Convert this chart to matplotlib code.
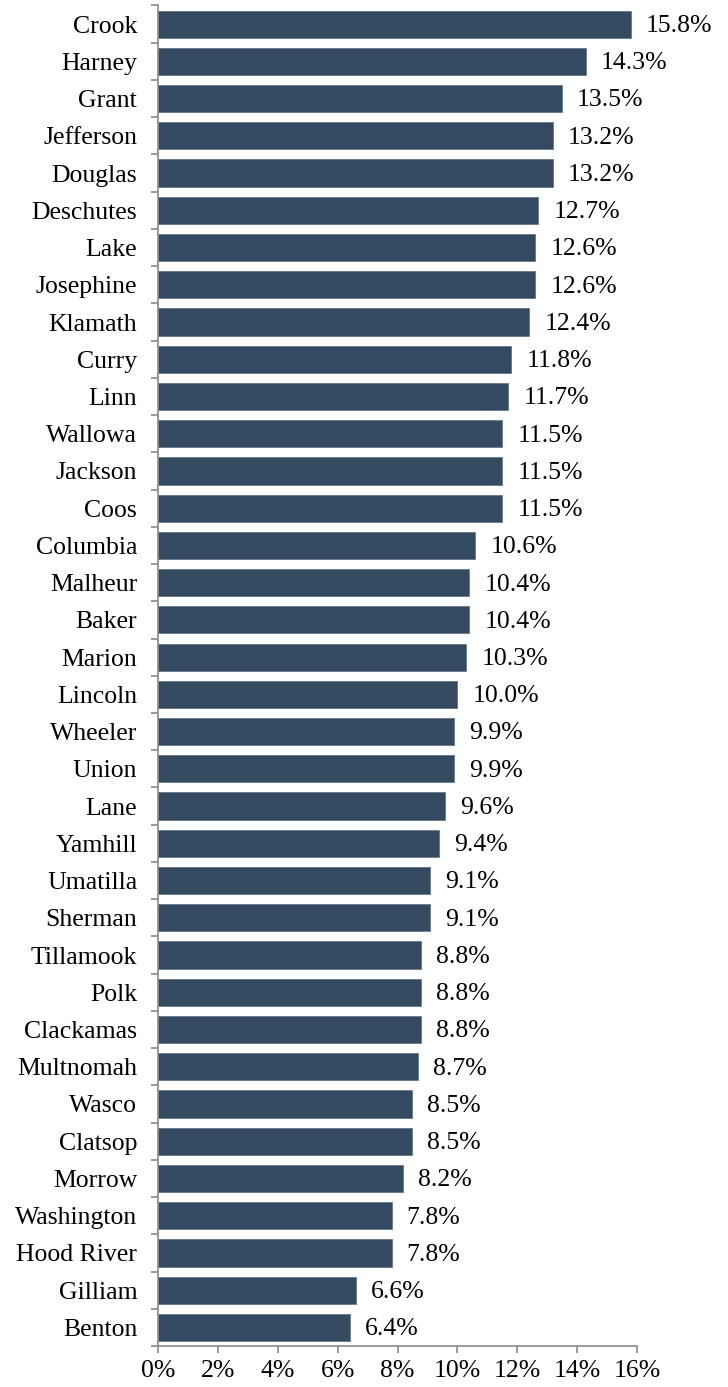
import matplotlib
matplotlib.use("Agg")
import matplotlib.pyplot as plt
import numpy as np
from matplotlib.ticker import FixedLocator

counties = ["Crook", "Harney", "Grant", "Jefferson", "Douglas", "Deschutes", "Lake",
            "Josephine", "Klamath", "Curry", "Linn", "Wallowa", "Jackson", "Coos",
            "Columbia", "Malheur", "Baker", "Marion", "Lincoln", "Wheeler", "Union",
            "Lane", "Yamhill", "Umatilla", "Sherman", "Tillamook", "Polk", "Clackamas",
            "Multnomah", "Wasco", "Clatsop", "Morrow", "Washington", "Hood River",
            "Gilliam", "Benton"]
values = [15.8, 14.3, 13.5, 13.2, 13.2, 12.7, 12.6, 12.6, 12.4, 11.8, 11.7, 11.5,
          11.5, 11.5, 10.6, 10.4, 10.4, 10.3, 10.0, 9.9, 9.9, 9.6, 9.4, 9.1, 9.1,
          8.8, 8.8, 8.8, 8.7, 8.5, 8.5, 8.2, 7.8, 7.8, 6.6, 6.4]
xticks = [0, 2, 4, 6, 8, 10, 12, 14, 16]
xtick_labels = [f"{t}%" for t in xticks]

plt.rcParams['font.family'] = ['Liberation Serif', 'DejaVu Serif']
FS = 18.5

fig = plt.figure(figsize=(7.28, 13.87), dpi=100)
ax = fig.add_axes([158/728, 1 - 1346/1387, (637 - 158)/728, (1346 - 5.5)/1387])

n = len(counties)
y = np.arange(n)
bar_color = "#344A60"
ax.barh(y, values, height=0.73, color=bar_color, edgecolor="#5a6e82", linewidth=0.5)

ax.set_ylim(n - 0.5, -0.5)
ax.set_xlim(0, 16)

ax.set_yticks(y)
ax.set_yticklabels(counties, fontsize=FS)
ax.yaxis.set_minor_locator(FixedLocator(np.arange(-0.5, n, 1)))
ax.tick_params(axis='y', which='major', length=0, pad=15)
ax.tick_params(axis='y', which='minor', length=5, color="#898989", width=1.2)

ax.set_xticks(xticks)
ax.set_xticklabels(xtick_labels, fontsize=FS)
ax.tick_params(axis='x', length=5, color="#898989", width=1.2, pad=5)

for s in ['top', 'right']:
    ax.spines[s].set_visible(False)
for s in ['left', 'bottom']:
    ax.spines[s].set_color("#898989")
    ax.spines[s].set_linewidth(1.2)

for yi, v in zip(y, values):
    ax.text(v + 0.5, yi + 0.05, f"{v:.1f}%", va='center', ha='left', fontsize=FS)

fig.savefig("out.png", dpi=100)
